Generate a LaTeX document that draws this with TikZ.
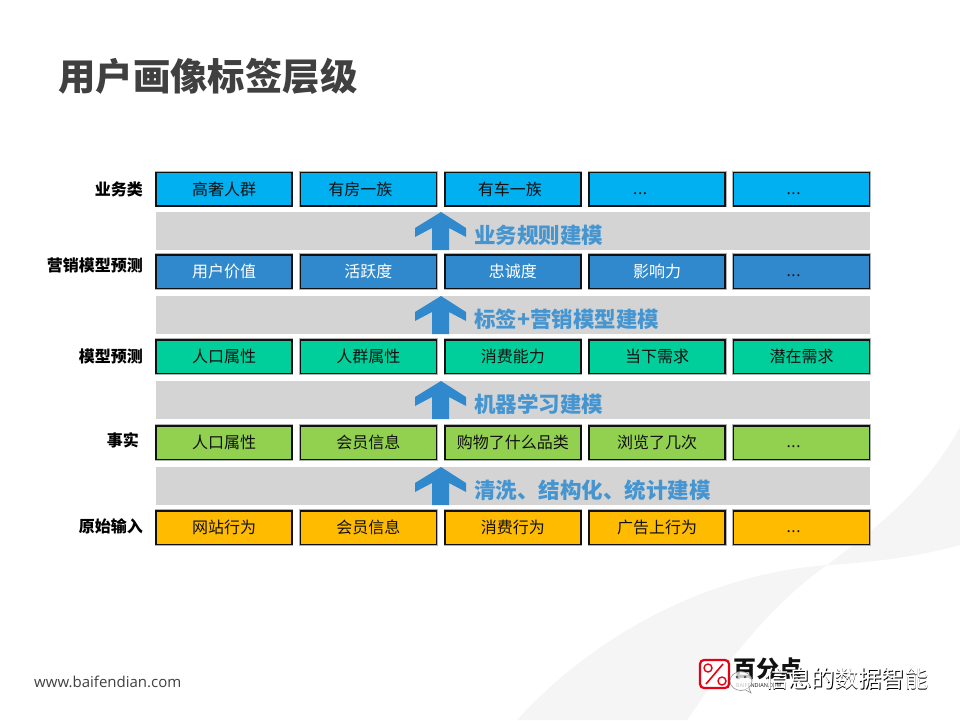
\documentclass[tikz,border=0pt]{standalone}
\usepackage{fontspec}
\setmainfont{Noto Sans CJK SC}
\newfontfamily\latinfont{Open Sans}
\usetikzlibrary{calc,positioning}
\definecolor{ink}{HTML}{111111}
\definecolor{titlegray}{HTML}{404040}
\definecolor{bandgray}{HTML}{D4D4D4}
\definecolor{swoosh}{HTML}{F5F5F6}
\definecolor{sky}{HTML}{00B0F0}
\definecolor{steel}{HTML}{3089CC}
\definecolor{mint}{HTML}{00CF9B}
\definecolor{leaf}{HTML}{92D050}
\definecolor{gold}{HTML}{FFBB00}
\definecolor{logored}{HTML}{E60012}
\newcommand{\nudge}[2]{\makebox[0pt]{\kern#1pt\kern#1pt #2}}
\newcommand{\more}{\raisebox{-5pt}[0pt][0pt]{\latinfont{.}\kern0.6pt{.}\kern0.6pt{.}}}
\tikzset{
  cellbox/.style={draw=ink,line width=1.5pt,preaction={draw=black!30,line width=2.6pt},minimum width=136pt,minimum height=33.5pt,inner sep=0pt,text=ink,font=\fontsize{16}{18}\selectfont},
  bandbox/.style={fill=bandgray,minimum width=714pt,minimum height=38pt,inner sep=0pt},
  bandtext/.style={anchor=west,inner sep=0pt,text=steel!90!white,font=\fontsize{21.5}{24}\selectfont\bfseries},
  rowlabel/.style={anchor=east,inner sep=0pt,text=black,font=\fontsize{16}{18}\selectfont\bfseries},
  uparrow/.style={fill=steel}
}
\begin{document}
\begin{tikzpicture}[x=1pt,y=-1pt]
    \useasboundingbox (0,0) rectangle (960,720);
    % background
    \fill[swoosh] (517,720) .. controls (590,640) and (700,575) .. (827,565)
      .. controls (880,562) and (925,555) .. (960,545) -- (960,427)
      .. controls (925,490) and (880,525) .. (827,565)
      .. controls (770,605) and (725,665) .. (687,720) -- cycle;

    \node[anchor=west,inner sep=0pt,text=titlegray,font=\fontsize{37.4}{40}\selectfont\bfseries] (title) at (58,76) {用户画像标签层级};

    % gray bands with arrows
    \foreach \y/\t [count=\i] in {231/业务规则建模,315/标签+营销模型建模,400/机器学习建模,486/清洗、结构化、统计建模} {
      \node[bandbox] (band\i) at (513,\y) {};
      \fill[uparrow] (441,\y-19) -- (466,\y-3) -- (466,\y+6) -- (449,\y-3) -- (449,\y+19)
        -- (432,\y+19) -- (432,\y-3) -- (415,\y+6) -- (415,\y-3) -- cycle;
      \node[bandtext] (bandtext\i) at (474,\y+4) {\t};
    }

    % five rows of cells
    \foreach \t [count=\i] in {高奢人群,\nudge{-8}{有房一族},\nudge{-3}{有车一族},\nudge{-17}{\more},\nudge{-8}{\more}} {
      \node[cellbox,fill=sky] (biz\i) at ({224+144.4*(\i-1)},189) {\t};
    }
    \foreach \t [count=\i] in {用户价值,活跃度,忠诚度,影响力} {
      \node[cellbox,fill=steel,text=white] (mkt\i) at ({224+144.4*(\i-1)},271.5) {\t};
    }
    \node[cellbox,fill=steel] (mkt5) at (801.6,271.5) {\nudge{-8}{\more}};
    \foreach \t [count=\i] in {人口属性,人群属性,消费能力,当下需求,潜在需求} {
      \node[cellbox,fill=mint] (pred\i) at ({224+144.4*(\i-1)},356.5) {\t};
    }
    \foreach \t [count=\i] in {人口属性,会员信息,购物了什么品类,浏览了几次,\nudge{-8}{\more}} {
      \node[cellbox,fill=leaf] (fact\i) at ({224+144.4*(\i-1)},442.5) {\t};
    }
    \foreach \t [count=\i] in {网站行为,会员信息,消费行为,广告上行为,\nudge{-8}{\more}} {
      \node[cellbox,fill=gold] (raw\i) at ({224+144.4*(\i-1)},527.5) {\t};
    }

    % row names
    \node[rowlabel] (lbiz) at (143,189) {业务类};
    \node[rowlabel] (lmkt) at (143,265) {营销模型预测};
    \node[rowlabel] (lpred) at (143,356) {模型预测};
    \node[rowlabel] (lfact) at (139,440) {事实};
    \node[rowlabel] (lraw) at (143,526) {原始输入};

    % footer
    \node[anchor=west,inner sep=0pt,text=titlegray,font=\latinfont\fontsize{15}{16}\selectfont] (site) at (34,682) {www.baifendian.com};
    \draw[logored,line width=2.2pt,fill=white,rounded corners=4pt] (700,660) rectangle (729,688);
    \draw[logored,line width=1.6pt] (706,684) -- (723,664);
    \draw[logored,line width=1.4pt] (708,668) circle (4pt);
    \draw[logored,line width=1.4pt] (722,681) circle (4pt);
    \node[anchor=west,inner sep=0pt,text=ink,font=\fontsize{23}{25}\selectfont\bfseries] (logo) at (733,669) {百分点};
    \node[anchor=west,inner sep=0pt,text=ink,font=\latinfont\fontsize{5.5}{6}\selectfont] (logosub) at (736,686) {BAIFENDIAN.COM};
    \draw[black!45,line width=0.6pt,fill=white,fill opacity=0.75] (741,681) ellipse (11pt and 9.5pt);
    \draw[black!45,line width=0.6pt,fill=white] (745,689.5) -- (751,693) -- (749,688);
    \fill[black!70] (737,677) circle (1.3pt) (745,677) circle (1.3pt);
    \node[anchor=west,inner sep=0pt,text=black,font=\fontsize{23.3}{25}\selectfont] (markshade) at (765.6,679.6) {信息的数据智能};
    \node[anchor=west,inner sep=0pt,text=white,font=\fontsize{23.3}{25}\selectfont] (mark) at (765,679) {信息的数据智能};
\end{tikzpicture}
\end{document}
